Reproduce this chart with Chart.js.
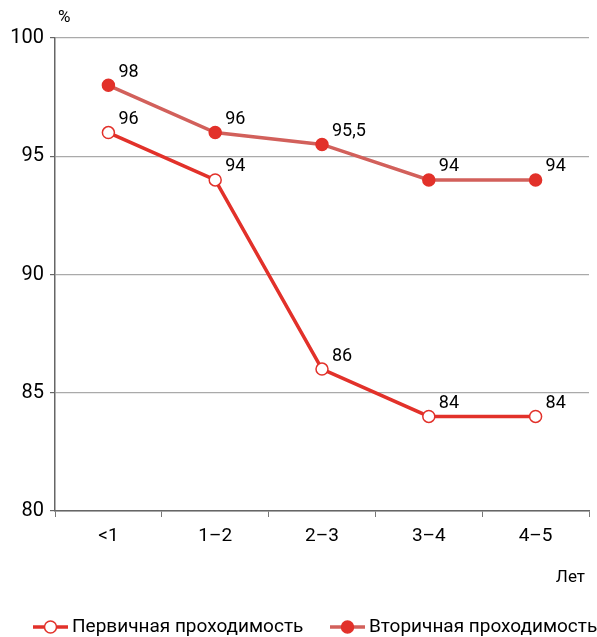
<!DOCTYPE html>
<html>
<head>
<meta charset="utf-8">
<script src="https://cdn.jsdelivr.net/npm/chart.js@4"></script>
<style>
  html, body { margin: 0; padding: 0; background: #fff; }
  #wrap { width: 597px; height: 637px; }
</style>
</head>
<body>
<div id="wrap"><canvas id="chart" width="597" height="637"></canvas></div>
<script>
// Данные
const categories = ['<1', '1–2', '2–3', '3–4', '4–5'];
const primary = [96, 94, 86, 84, 84];
const secondary = [98, 96, 95.5, 94, 94];
const primaryLabels = ['96', '94', '86', '84', '84'];
const secondaryLabels = ['98', '96', '95,5', '94', '94'];
const seriesNames = ['Первичная проходимость', 'Вторичная проходимость'];
const yTicks = [80, 85, 90, 95, 100];

const RED = '#e2312a';
const RED_LIGHT = '#d2605b';
const FONT = 'Roboto, "DejaVu Sans", sans-serif';

// Подписи значений рядом с точками
const valueLabels = {
    id: 'valueLabels',
    afterDatasetsDraw(chart) {
        const ctx = chart.ctx;
        ctx.save();
        ctx.font = '18px ' + FONT;
        ctx.fillStyle = '#000';
        ctx.textBaseline = 'middle';
        ctx.textAlign = 'left';
        [primaryLabels, secondaryLabels].forEach((labels, di) => {
            chart.getDatasetMeta(di).data.forEach((pt, i) => {
                ctx.fillText(labels[i], pt.x + 10, pt.y - 13);
            });
        });
        ctx.restore();
    }
};

// "%" , "Лет" и легенда
const extras = {
    id: 'extras',
    afterDraw(chart) {
        const ctx = chart.ctx;
        ctx.save();
        ctx.fillStyle = '#000';
        ctx.textBaseline = 'middle';
        ctx.font = '17px ' + FONT;
        ctx.textAlign = 'left';
        ctx.fillText('%', 58, 18);
        ctx.textAlign = 'right';
        ctx.fillText('Лет', 585, 578);

        // легенда
        ctx.font = '19px ' + FONT;
        ctx.textAlign = 'left';
        const y = 627;
        const items = [
            { x: 33, line: RED, fill: '#fff', name: seriesNames[0] },
            { x: 330, line: RED_LIGHT, fill: RED, name: seriesNames[1] }
        ];
        items.forEach(it => {
            ctx.strokeStyle = it.line;
            ctx.lineWidth = 3.5;
            ctx.beginPath();
            ctx.moveTo(it.x, y);
            ctx.lineTo(it.x + 35, y);
            ctx.stroke();
            ctx.beginPath();
            ctx.arc(it.x + 17.5, y, 6, 0, Math.PI * 2);
            ctx.fillStyle = it.fill;
            ctx.fill();
            ctx.strokeStyle = RED;
            ctx.lineWidth = 1.5;
            ctx.stroke();
            ctx.fillStyle = '#000';
            ctx.fillText(it.name, it.x + 39, y);
        });
        ctx.restore();
    }
};

new Chart(document.getElementById('chart'), {
    type: 'line',
    data: {
        labels: categories,
        datasets: [
            {
                label: seriesNames[0],
                data: primary,
                borderColor: RED,
                borderWidth: 3.5,
                pointRadius: 6,
                pointBorderWidth: 1.5,
                pointBackgroundColor: '#fff',
                pointBorderColor: RED,
                tension: 0
            },
            {
                label: seriesNames[1],
                data: secondary,
                borderColor: RED_LIGHT,
                borderWidth: 3.5,
                pointRadius: 6,
                pointBorderWidth: 1.5,
                pointBackgroundColor: RED,
                pointBorderColor: RED,
                tension: 0
            }
        ]
    },
    options: {
        responsive: false,
        animation: false,
        layout: { padding: { left: 0, top: 38, right: 8, bottom: 0 } },
        plugins: {
            legend: { display: false },
            tooltip: { enabled: false }
        },
        scales: {
            x: {
                offset: true,
                grid: {
                    display: true,
                    drawOnChartArea: false,
                    drawTicks: true,
                    tickLength: 6,
                    color: '#777',
                    offset: true
                },
                border: { color: '#666', width: 1.5 },
                ticks: {
                    color: '#000',
                    font: { family: FONT, size: 19 },
                    padding: 8
                },
                afterFit(scale) { scale.height = 126; }
            },
            y: {
                min: 80,
                max: 100,
                afterBuildTicks(scale) { scale.ticks = yTicks.map(v => ({ value: v })); },
                grid: {
                    color: '#aaa',
                    lineWidth: 1.2,
                    tickLength: 5,
                    tickColor: '#666'
                },
                border: { color: '#666', width: 1.5 },
                ticks: {
                    color: '#000',
                    font: { family: FONT, size: 20 },
                    padding: 6
                },
                afterFit(scale) { scale.width = 55; }
            }
        }
    },
    plugins: [valueLabels, extras]
});
</script>
</body>
</html>
